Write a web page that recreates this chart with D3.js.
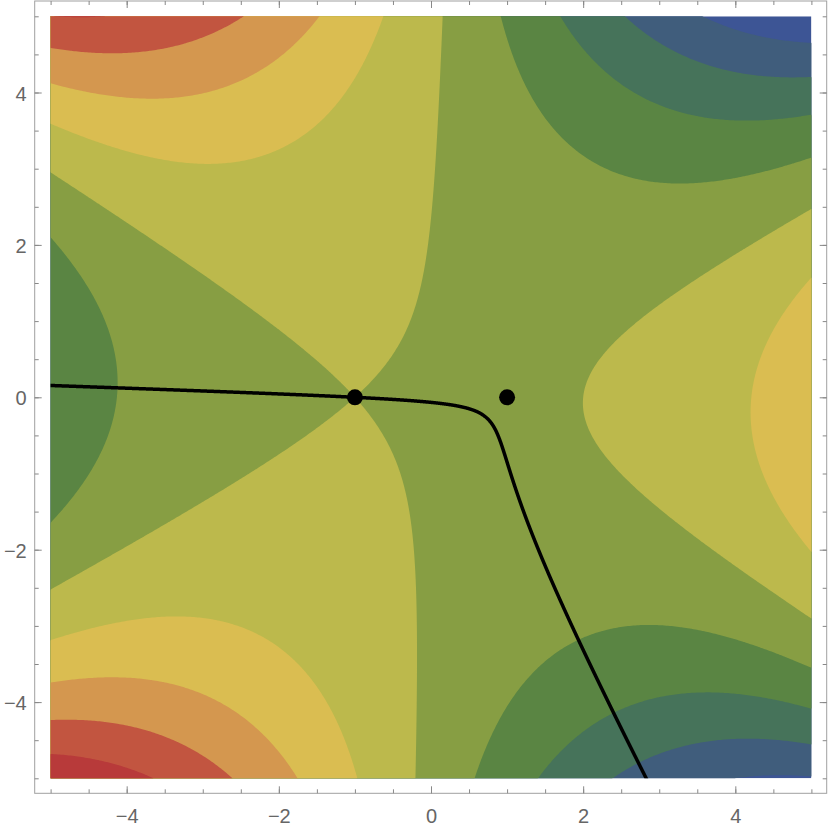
<!DOCTYPE html>
<html>
<head>
<meta charset="utf-8">
<script src="https://cdn.jsdelivr.net/npm/d3@7"></script>
<style>
  body { margin: 0; background: #fff; }
  .axis text { font-family: "Liberation Sans", Arial, sans-serif; font-size: 20px; fill: #666; }
  .axis line { stroke: #888; }
  .axis path.domain { display: none; }
</style>
</head>
<body>
<div id="chart"></div>
<script>
'use strict';

// plotted surface: Re( c * (a0 + a1 z + a2 z^2 + a3 z^3) ), z = x + iy
const coeffs = [-2 / 3, -1, 0, 1 / 3];
const multiplier = [1, 0.1];            // c = 1 + 0.1i
const levels = [-80, -60, -40, -20, 0, 20, 40, 60, 80];
const bandColors = ['#3d5595', '#405d7c', '#46735a', '#5a8543', '#879e43',
  '#bcb94c', '#dabd51', '#d4974f', '#c25540', '#b83a3a'];
const criticalPoints = [[-1, 0], [1, 0]];
const saddle = criticalPoints[0];
const xTicks = [-4, -2, 0, 2, 4];
const yTicks = [-4, -2, 0, 2, 4];
const minorTicks = d3.range(-5, 5.01, 0.5);
const xDomain = [-5, 5], yDomain = [-5, 5];

const width = 830, height = 829;
const frame = { left: 34.7, right: 826.7, top: 1, bottom: 793.3 };

const x = d3.scaleLinear().domain(xDomain).range([50.6, 811.4]);
const y = d3.scaleLinear().domain(yDomain).range([778.3, 16.3]);

function cmul(a, b) {
  return [a[0] * b[0] - a[1] * b[1], a[0] * b[1] + a[1] * b[0]];
}

function h(zx, zy) {
  let v = [0, 0];
  for (let k = coeffs.length - 1; k >= 0; k--) {
    v = cmul(v, [zx, zy]);
    v[0] += coeffs[k];
  }
  return cmul(multiplier, v);
}

function hPrime(zx, zy) {
  let v = [0, 0];
  for (let k = coeffs.length - 1; k >= 1; k--) {
    v = cmul(v, [zx, zy]);
    v[0] += k * coeffs[k];
  }
  return cmul(multiplier, v);
}

// grid of Re h for the filled contours
const n = 420;
const values = new Float64Array(n * n);
const gx = i => xDomain[0] + (xDomain[1] - xDomain[0]) * i / (n - 1);
const gy = j => yDomain[1] - (yDomain[1] - yDomain[0]) * j / (n - 1);
for (let j = 0; j < n; j++) {
  for (let i = 0; i < n; i++) {
    values[j * n + i] = h(gx(i), gy(j))[0];
  }
}

const contours = d3.contours().size([n, n]).thresholds(levels)(values);

const project = d3.geoTransform({
  point: function(u, v) {
    this.stream.point(x(gx(u - 0.5)), y(gy(v - 0.5)));
  }
});
const path = d3.geoPath(project);

// steepest descent path through the saddle
function direction(p) {
  const d = hPrime(p[0], p[1]);
  const m = Math.hypot(d[0], d[1]) || 1;
  return [-d[0] / m, d[1] / m];
}

function trace(start) {
  const pts = [];
  let p = start.slice();
  const step = 0.005;
  for (let k = 0; k < 6000; k++) {
    pts.push(p);
    if (Math.abs(p[0]) > 5.05 || Math.abs(p[1]) > 5.05) break;
    const k1 = direction(p);
    const k2 = direction([p[0] + step / 2 * k1[0], p[1] + step / 2 * k1[1]]);
    const k3 = direction([p[0] + step / 2 * k2[0], p[1] + step / 2 * k2[1]]);
    const k4 = direction([p[0] + step * k3[0], p[1] + step * k3[1]]);
    p = [p[0] + step / 6 * (k1[0] + 2 * k2[0] + 2 * k3[0] + k4[0]),
         p[1] + step / 6 * (k1[1] + 2 * k2[1] + 2 * k3[1] + k4[1])];
  }
  return pts;
}

const theta = -Math.atan2(multiplier[1], multiplier[0]) / 2;
const eps = 0.01;
const rightBranch = trace([saddle[0] + eps * Math.cos(theta), saddle[1] + eps * Math.sin(theta)]);
const leftBranch = trace([saddle[0] - eps * Math.cos(theta), saddle[1] - eps * Math.sin(theta)]);
const descentPath = leftBranch.reverse().concat([saddle], rightBranch);

const svg = d3.select('#chart').append('svg')
  .attr('width', width)
  .attr('height', height);

svg.append('clipPath').attr('id', 'plot-clip')
  .append('rect')
  .attr('x', x(xDomain[0]))
  .attr('y', y(yDomain[1]))
  .attr('width', x(xDomain[1]) - x(xDomain[0]))
  .attr('height', y(yDomain[0]) - y(yDomain[1]));

const plot = svg.append('g').attr('clip-path', 'url(#plot-clip)');

plot.append('rect')
  .attr('x', x(xDomain[0]))
  .attr('y', y(yDomain[1]))
  .attr('width', x(xDomain[1]) - x(xDomain[0]))
  .attr('height', y(yDomain[0]) - y(yDomain[1]))
  .attr('fill', bandColors[0]);

plot.selectAll('path.band').data(contours).enter()
  .append('path')
  .attr('class', 'band')
  .attr('d', path)
  .attr('fill', (d, i) => bandColors[i + 1]);

plot.append('path')
  .datum(descentPath)
  .attr('fill', 'none')
  .attr('stroke', '#000')
  .attr('stroke-width', 3.5)
  .attr('stroke-linejoin', 'round')
  .attr('d', d3.line().x(d => x(d[0])).y(d => y(d[1])));

svg.selectAll('circle.crit').data(criticalPoints).enter()
  .append('circle')
  .attr('class', 'crit')
  .attr('cx', d => x(d[0]))
  .attr('cy', d => y(d[1]))
  .attr('r', 8)
  .attr('fill', '#000');

// frame
svg.append('rect')
  .attr('x', frame.left)
  .attr('y', frame.top)
  .attr('width', frame.right - frame.left)
  .attr('height', frame.bottom - frame.top)
  .attr('fill', 'none')
  .attr('stroke', '#a0a0a0')
  .attr('stroke-width', 1);

const fmt = d3.format('');

// minor ticks on all four sides
svg.append('g').attr('class', 'axis')
  .attr('transform', 'translate(0,' + frame.bottom + ')')
  .call(d3.axisBottom(x).tickValues(minorTicks).tickSize(-4).tickFormat(''));
svg.append('g').attr('class', 'axis')
  .attr('transform', 'translate(0,' + frame.top + ')')
  .call(d3.axisTop(x).tickValues(minorTicks).tickSize(-4).tickFormat(''));
svg.append('g').attr('class', 'axis')
  .attr('transform', 'translate(' + frame.left + ',0)')
  .call(d3.axisLeft(y).tickValues(minorTicks).tickSize(-4).tickFormat(''));
svg.append('g').attr('class', 'axis')
  .attr('transform', 'translate(' + frame.right + ',0)')
  .call(d3.axisRight(y).tickValues(minorTicks).tickSize(-4).tickFormat(''));

// major ticks, labelled on bottom and left
svg.append('g').attr('class', 'axis')
  .attr('transform', 'translate(0,' + frame.bottom + ')')
  .call(d3.axisBottom(x).tickValues(xTicks).tickSize(-7).tickPadding(16).tickFormat(fmt));
svg.append('g').attr('class', 'axis')
  .attr('transform', 'translate(0,' + frame.top + ')')
  .call(d3.axisTop(x).tickValues(xTicks).tickSize(-7).tickFormat(''));
svg.append('g').attr('class', 'axis')
  .attr('transform', 'translate(' + frame.left + ',0)')
  .call(d3.axisLeft(y).tickValues(yTicks).tickSize(-7).tickPadding(8).tickFormat(fmt))
  .selectAll('text').attr('dy', '0.38em');
svg.append('g').attr('class', 'axis')
  .attr('transform', 'translate(' + frame.right + ',0)')
  .call(d3.axisRight(y).tickValues(yTicks).tickSize(-7).tickFormat(''));
</script>
</body>
</html>
